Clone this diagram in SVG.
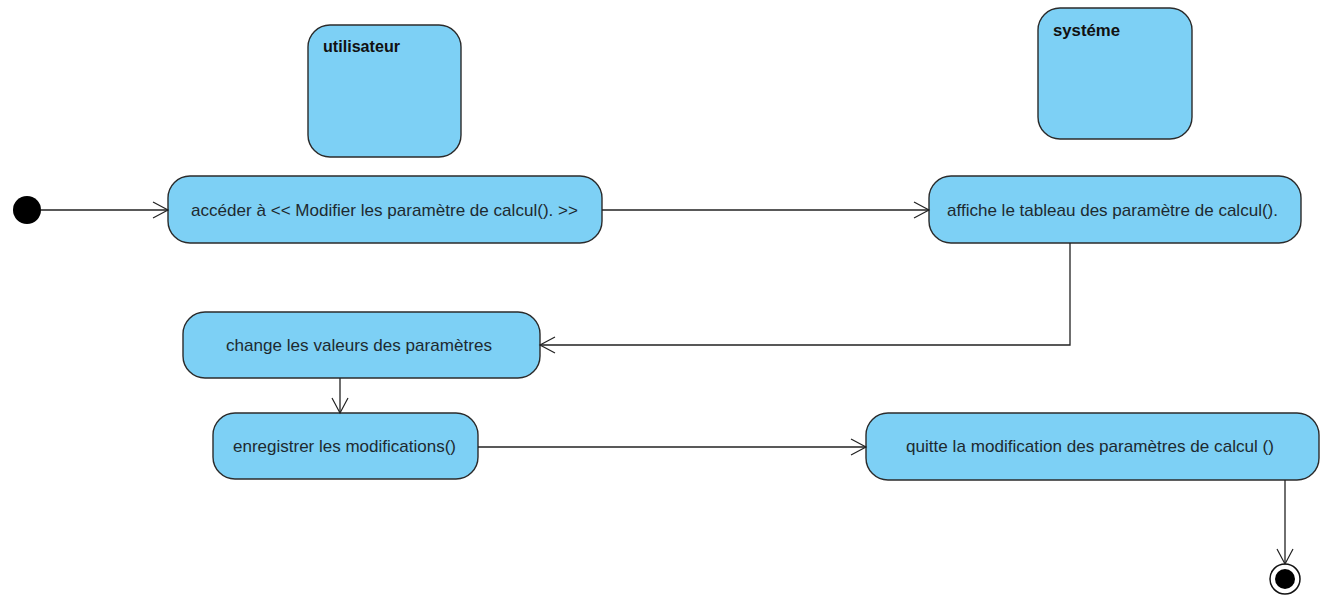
<svg xmlns="http://www.w3.org/2000/svg" width="1326" height="599" viewBox="0 0 1326 599">
  <defs>
    <marker id="open" markerWidth="18" markerHeight="18" refX="16" refY="9" orient="auto" markerUnits="userSpaceOnUse">
      <path d="M1,1 L16,9 L1,17" fill="none" stroke="#222" stroke-width="1.2"/>
    </marker>
    <style>
      .act { fill: #7dd0f5; stroke: #2b2b2b; stroke-width: 1.4; }
      .lbl { font-family: "Liberation Sans", Arial, sans-serif; font-size: 17px; fill: #1e2a30; text-anchor: middle; }
      .ttl { font-family: "Liberation Sans", Arial, sans-serif; font-size: 16px; font-weight: bold; fill: #111; }
      .edge { fill: none; stroke: #222; stroke-width: 1.3; marker-end: url(#open); }
    </style>
  </defs>
  <rect width="1326" height="599" fill="#ffffff"/>

  <!-- swimlane headers -->
  <g id="utilisateur">
    <rect class="act" x="308" y="25" width="153" height="132" rx="22" ry="22"/>
    <text class="ttl" x="323" y="52" textLength="77" lengthAdjust="spacingAndGlyphs">utilisateur</text>
  </g>
  <g id="systeme">
    <rect class="act" x="1038" y="8" width="154" height="131" rx="22" ry="22"/>
    <text class="ttl" x="1053" y="36" textLength="67" lengthAdjust="spacingAndGlyphs">systéme</text>
  </g>

  <!-- start / end -->
  <g id="start">
    <circle cx="27" cy="210" r="14" fill="#000"/>
  </g>
  <g id="end">
    <circle cx="1285" cy="579" r="15" fill="#fff" stroke="#111" stroke-width="1.5"/>
    <circle cx="1285" cy="579" r="10" fill="#000"/>
  </g>

  <!-- actions -->
  <g id="acceder">
    <rect class="act" x="168" y="176" width="434" height="67" rx="22" ry="22"/>
    <text class="lbl" x="384.5" y="216" textLength="387" lengthAdjust="spacingAndGlyphs">accéder à &lt;&lt; Modifier les paramètre de calcul(). &gt;&gt;</text>
  </g>
  <g id="affiche">
    <rect class="act" x="929" y="176" width="372" height="67" rx="22" ry="22"/>
    <text class="lbl" x="1112.5" y="216" textLength="331" lengthAdjust="spacingAndGlyphs">affiche le tableau des paramètre de calcul().</text>
  </g>
  <g id="change">
    <rect class="act" x="183" y="312" width="357" height="66" rx="22" ry="22"/>
    <text class="lbl" x="359" y="351" textLength="266" lengthAdjust="spacingAndGlyphs">change les valeurs des paramètres</text>
  </g>
  <g id="enregistrer">
    <rect class="act" x="213" y="413" width="265" height="66" rx="22" ry="22"/>
    <text class="lbl" x="344.5" y="452" textLength="223" lengthAdjust="spacingAndGlyphs">enregistrer les modifications()</text>
  </g>
  <g id="quitte">
    <rect class="act" x="866" y="413" width="453" height="67" rx="22" ry="22"/>
    <text class="lbl" x="1090" y="452" textLength="368" lengthAdjust="spacingAndGlyphs">quitte la modification des paramètres de calcul ()</text>
  </g>

  <!-- transitions -->
  <g id="connectors">
    <path class="edge" d="M41,210 L168,210"/>
    <path class="edge" d="M602,210 L929,210"/>
    <path class="edge" d="M1070,243 L1070,345 L540,345"/>
    <path class="edge" d="M340,378 L340,413"/>
    <path class="edge" d="M478,447 L866,447"/>
    <path class="edge" d="M1285,480 L1285,564"/>
  </g>
</svg>
